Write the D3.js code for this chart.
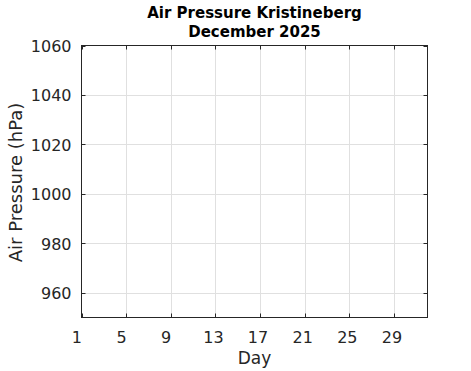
<!DOCTYPE html>
<html>
<head>
<meta charset="utf-8">
<script src="https://cdn.jsdelivr.net/npm/d3@7"></script>
<style>
  html, body { margin: 0; padding: 0; background: #fff; }
  svg { display: block; font-family: "DejaVu Sans", sans-serif; }
</style>
</head>
<body>
<svg id="chart" width="471" height="371"></svg>
<script>
// ---- data (the reference shows an empty month: no observations plotted) ----
const days = [];
const pressure = [];
const xTickValues = [1, 5, 9, 13, 17, 21, 25, 29];
const yTickValues = [960, 980, 1000, 1020, 1040, 1060];
const xDomain = [1, 32];
const yDomain = [950, 1060];
const titleLines = ["Air Pressure Kristineberg", "December 2025"];
const xLabel = "Day";
const yLabel = "Air Pressure (hPa)";

(function () {
// ---- layout ----
const mL = 81.5, mR = 427.5, mT = 45.5, mB = 317.5;
const axisColor = "#262626", gridColor = "#e0e0e0";
const tickLen = 4;

const svg = d3.select("#chart");
const x = d3.scaleLinear().domain(xDomain).range([mL, mR]);
const y = d3.scaleLinear().domain(yDomain).range([mB, mT]);

// grid
const g = svg.append("g");
g.selectAll("line.vg").data(xTickValues.filter(d => d > xDomain[0] && d < xDomain[1]))
  .enter().append("line")
  .attr("x1", d => Math.round(x(d)) + 0.5).attr("x2", d => Math.round(x(d)) + 0.5)
  .attr("y1", mT).attr("y2", mB)
  .attr("stroke", gridColor).attr("stroke-width", 1);
g.selectAll("line.hg").data(yTickValues.filter(d => d > yDomain[0] && d < yDomain[1]))
  .enter().append("line")
  .attr("y1", d => Math.round(y(d)) + 0.5).attr("y2", d => Math.round(y(d)) + 0.5)
  .attr("x1", mL).attr("x2", mR)
  .attr("stroke", gridColor).attr("stroke-width", 1);

// data line (empty)
const line = d3.line().x((d, i) => x(days[i])).y(d => y(d));
svg.append("path").attr("d", line(pressure) || "")
  .attr("fill", "none").attr("stroke", "#0072bd").attr("stroke-width", 1.5);

// axes via d3 axes (ticks drawn inward separately)
const xAxis = d3.axisBottom(x).tickValues(xTickValues).tickSize(0).tickPadding(0)
  .tickFormat(d => String(d).padEnd(3, " "));
const xg = svg.append("g").attr("transform", `translate(0,${mB})`).call(xAxis);
xg.select(".domain").remove();
xg.selectAll("text").attr("y", 25.5).attr("dy", 0)
  .attr("fill", axisColor).style("font-size", "16px").style("white-space", "pre")
  .style("font-family", "DejaVu Sans, sans-serif");

const yAxis = d3.axisLeft(y).tickValues(yTickValues).tickSize(0).tickPadding(10)
  .tickFormat(d3.format("d"));
const yg = svg.append("g").attr("transform", `translate(${mL},0)`).call(yAxis);
yg.select(".domain").remove();
yg.selectAll("text").attr("fill", axisColor).style("font-size", "16px")
  .attr("dy", "0.36em").style("font-family", "DejaVu Sans, sans-serif");

// inward ticks on all four sides
const tk = svg.append("g").attr("stroke", axisColor).attr("stroke-width", 1);
xTickValues.forEach(d => {
  const px = Math.round(x(d)) + 0.5;
  tk.append("line").attr("x1", px).attr("x2", px).attr("y1", mB).attr("y2", mB - tickLen);
  tk.append("line").attr("x1", px).attr("x2", px).attr("y1", mT).attr("y2", mT + tickLen);
});
yTickValues.forEach(d => {
  const py = Math.round(y(d)) + 0.5;
  tk.append("line").attr("y1", py).attr("y2", py).attr("x1", mL).attr("x2", mL + tickLen);
  tk.append("line").attr("y1", py).attr("y2", py).attr("x1", mR).attr("x2", mR - tickLen);
});

// box
svg.append("rect").attr("x", mL).attr("y", mT)
  .attr("width", mR - mL).attr("height", mB - mT)
  .attr("fill", "none").attr("stroke", axisColor).attr("stroke-width", 1);

// title
const cx = (mL + mR) / 2;
svg.append("text").attr("x", cx).attr("y", 17.5).attr("text-anchor", "middle")
  .attr("fill", "#000").style("font-size", "15px").style("font-weight", "bold")
  .text(titleLines[0]);
svg.append("text").attr("x", cx).attr("y", 36.5).attr("text-anchor", "middle")
  .attr("fill", "#000").style("font-size", "15px").style("font-weight", "bold")
  .text(titleLines[1]);

// axis labels
svg.append("text").attr("x", cx).attr("y", 364).attr("text-anchor", "middle")
  .attr("fill", axisColor).style("font-size", "17px").text(xLabel);
svg.append("text").attr("transform", `translate(22,${(mT + mB) / 2 + 1}) rotate(-90)`)
  .attr("text-anchor", "middle").attr("fill", axisColor).style("font-size", "18px")
  .text(yLabel);
})();
</script>
</body>
</html>
